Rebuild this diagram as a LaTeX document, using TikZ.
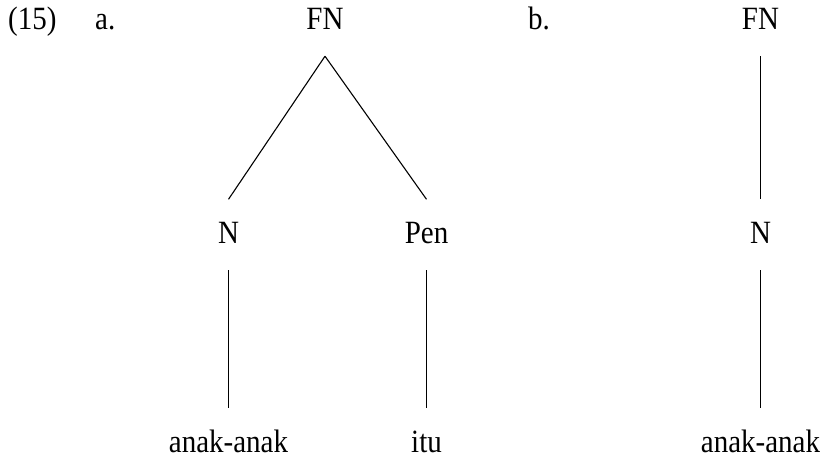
\documentclass[tikz,border=0pt]{standalone}
\usepackage{fontspec}
\setmainfont{Liberation Serif}
\usepackage{tikz}

\newcommand{\streck}[1]{\scalebox{1}[1.12]{#1}}

\tikzset{
  wort/.style={font=\fontsize{29}{34}\selectfont, inner sep=0pt, anchor=base,
               text height=43.5pt, text depth=27pt},
  marke/.style={font=\fontsize{29}{34}\selectfont, inner sep=0pt, anchor=base west},
  ast/.style={line width=1.1pt},
}

\begin{document}
\begin{tikzpicture}[x=1pt,y=-1pt]
\useasboundingbox (0,0) rectangle (827,459);

%NUMMER UND MARKEN
\node [marke] (nr) at (8,29) {\streck{(15)}};
\node [marke] (ma) at (95,29) {\streck{a.}};
\node [marke] (mb) at (528,29) {\streck{b.}};

%BAUM A (links)
\node [wort] (fnA) at (325,29) {\streck{FN}};
\node [wort] (nA) at (228.5,243) {\streck{N}};
\node [wort] (penA) at (426.5,243) {\streck{Pen}};
\node [wort] (anakA) at (228.5,452) {\streck{anak-anak}};
\node [wort] (ituA) at (426.5,452) {\streck{itu}};

\draw [ast] (fnA.south) -- (nA.north);
\draw [ast] (fnA.south) -- (penA.north);
\draw [ast] (nA.south) -- (anakA.north);
\draw [ast] (penA.south) -- (ituA.north);

%BAUM B (rechts)
\node [wort] (fnB) at (760.5,29) {\streck{FN}};
\node [wort] (nB) at (760.5,243) {\streck{N}};
\node [wort] (anakB) at (760.5,452) {\streck{anak-anak}};

\draw [ast] (fnB.south) -- (nB.north);
\draw [ast] (nB.south) -- (anakB.north);

\end{tikzpicture}
\end{document}
